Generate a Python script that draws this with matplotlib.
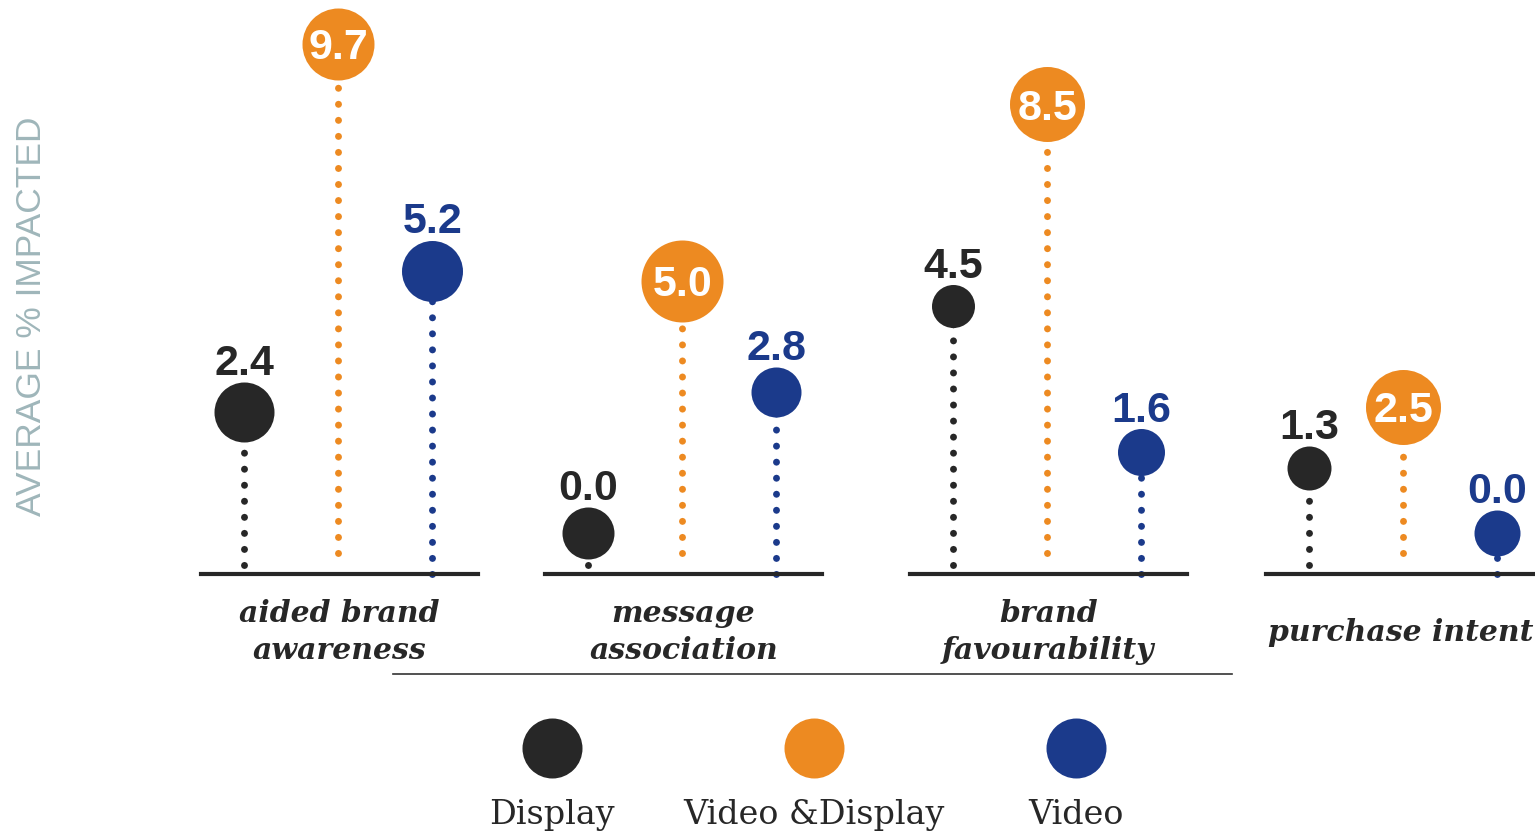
import numpy as np
import matplotlib.pyplot as plt
from matplotlib.lines import Line2D

# values
categories = ['aided brand\nawareness', 'message\nassociation', 'brand\nfavourability', 'purchase intent']
series_names = ['Display', 'Video &Display', 'Video']
display_vals = [2.4, 0.0, 4.5, 1.3]
video_display_vals = [9.7, 5.0, 8.5, 2.5]
video_vals = [5.2, 2.8, 1.6, 0.0]

# styles
colors = ['#272727', '#ED8A21', '#1B3A8B']
# circle diameters (px) per series / group, the original draws them unevenly
diam = [[60, 52, 43, 44], [72, 82, 75, 75], [61, 50, 47, 46]]
stem_gap = [0.18, 0.42, 0.0]   # how far above the baseline the dotted stem stops
inside_label = [False, True, False]

W, H = 1535, 832
fig = plt.figure(figsize=(W / 100, H / 100), dpi=100)

group_left = [201, 545, 910, 1266]
group_width = [277, 277, 277, 269]
base_px = 574
px_per_x = 94
y_lo, y_hi = -0.81, 10.57

all_vals = [display_vals, video_display_vals, video_vals]
num_font = 'Liberation Sans'

for g, cat in enumerate(categories):
    ax = fig.add_axes([group_left[g] / W, 1 - base_px / H, group_width[g] / W, base_px / H])
    ax.set_xlim(0.54, 0.54 + group_width[g] / px_per_x)
    ax.set_ylim(y_lo, y_hi)
    ax.patch.set_visible(False)
    for s in ['top', 'left', 'right']:
        ax.spines[s].set_visible(False)
    ax.spines['bottom'].set_linewidth(3.0)
    ax.spines['bottom'].set_color('#272727')
    ax.set_xticks([])
    ax.set_yticks([])

    for i, vals in enumerate(all_vals):
        x = i + 1
        v = vals[g]
        c = colors[i]
        d = diam[i][g]
        ax.plot([x, x], [y_lo + stem_gap[i], v], color=c, lw=5.0,
                linestyle=(0, (0.01, 2.3)), dash_capstyle='round', zorder=1, clip_on=False)
        ax.scatter([x], [v], s=(d * 0.72) ** 2, color=c, linewidths=0, zorder=3, clip_on=False)
        if inside_label[i]:
            ax.annotate(f'{v:.1f}', (x, v), xytext=(0, -11), textcoords='offset points',
                        ha='center', va='baseline', fontsize=31, fontweight='bold',
                        family=num_font, color='white', zorder=4)
        else:
            ax.annotate(f'{v:.1f}', (x, v), xytext=(0, (d / 2 + 7) * 0.72), textcoords='offset points',
                        ha='center', va='baseline', fontsize=31, fontweight='bold',
                        family=num_font, color=c, zorder=4)

    ax.annotate(cat, (0.5, 0), xycoords='axes fraction', xytext=(0, -42), textcoords='offset points',
                ha='center', va='center', fontsize=21.5, fontweight='bold', fontstyle='italic',
                family='DejaVu Serif', color='#272727', linespacing=1.35)

# overlay in pixel coordinates for the legend and decorations
over = fig.add_axes([0, 0, 1, 1], zorder=-1)
over.set_xlim(0, W)
over.set_ylim(H, 0)
over.axis('off')

over.add_line(Line2D([393, 1232], [674, 674], color='#333333', lw=1.2))

fig.text(32 / W, 1 - 316 / H, 'AVERAGE % IMPACTED', rotation=90, ha='center', va='center',
         fontsize=25.5, color='#9FB6BA', family='Liberation Sans')

leg_x = 552 + 262 * np.arange(len(series_names))
for i, name in enumerate(series_names):
    over.scatter([leg_x[i]], [748], s=(60 * 0.72) ** 2, color=colors[i], linewidths=0)
    over.text(leg_x[i], 824, name, ha='center', va='baseline', fontsize=24,
              family='DejaVu Serif', color='#272727')

fig.savefig('out.png', dpi=100)
